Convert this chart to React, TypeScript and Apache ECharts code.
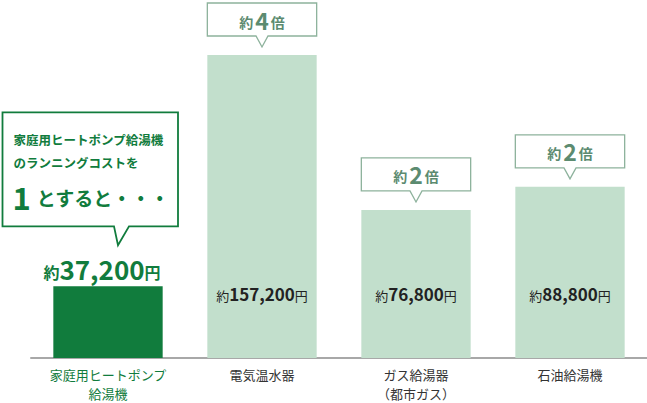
import React, { useEffect, useRef } from "react";
import * as echarts from "echarts";

const categories = ["家庭用ヒートポンプ\n給湯機", "電気温水器", "ガス給湯器\n（都市ガス）", "石油給湯機"];
const costs = [37200, 157200, 76800, 88800];
const costLabels = ["37,200", "157,200", "76,800", "88,800"];
const multipliers = ["", "4", "2", "2"];
const introLines = ["家庭用ヒートポンプ給湯機", "のランニングコストを"];

const GREEN = "#117c3d";
const LIGHT = "#c2dfcc";
const CALLOUT = "#8db29c";
const CALLOUT_TEXT = "#5c8b70";
const FONT = "'Noto Sans CJK JP', 'Noto Sans', sans-serif";

function App() {
  const chartRef = useRef<HTMLDivElement>(null);

  useEffect(() => {
    const myChart = echarts.init(chartRef.current!, null, { renderer: "svg" });

    const barData = costs.map((v, i) =>
      i === 0
        ? {
            value: v,
            itemStyle: { color: GREEN },
            label: {
              show: true,
              position: "top" as const,
              distance: 5,
              offset: [-6, 0],
              formatter: `{a|約}{b|${costLabels[i]}}{a|円}`,
              rich: {
                a: { fontSize: 16, fontWeight: "bold", color: GREEN, fontFamily: FONT, padding: [8, 0, 0, 0] },
                b: { fontSize: 26, fontWeight: "bold", color: GREEN, fontFamily: FONT },
              },
            },
          }
        : {
            value: v,
            itemStyle: { color: LIGHT },
            label: {
              show: true,
              position: "insideBottom" as const,
              distance: 56,
              formatter: `{a|約}{b|${costLabels[i]}}{a|円}`,
              rich: {
                a: { fontSize: 13, color: "#222", fontFamily: FONT, padding: [3, 0, 0, 0] },
                b: { fontSize: 17, fontWeight: "bold", color: "#222", fontFamily: FONT },
              },
            },
          }
    );

    const ratioData = costs
      .map((v, i) => [i, v, multipliers[i]])
      .filter((d) => d[2] !== "");

    const option: echarts.EChartsOption = {
      animation: false,
      grid: { left: 31, right: 0, top: 55, bottom: 43 },
      xAxis: {
        type: "category",
        data: categories,
        axisLine: { lineStyle: { color: "#a8a8a8", width: 2 } },
        axisTick: { show: false },
        axisLabel: {
          interval: 0,
          margin: 7,
          fontSize: 13,
          lineHeight: 19,
          fontFamily: FONT,
          color: ((_v: string, idx: number) => (idx === 0 ? GREEN : "#333")) as any,
        },
      },
      yAxis: { type: "value", show: false, min: 0, max: Math.max(...costs) },
      series: [
        {
          type: "bar",
          barWidth: "71%",
          data: barData,
        },
        {
          type: "custom",
          clip: false,
          z: 5,
          data: ratioData,
          renderItem: (params: any, api: any) => {
            const p = api.coord([api.value(0), api.value(1)]);
            const w = api.size([1, 0])[0] * 0.71;
            const cx = p[0];
            const top = p[1];
            const bottom = top - 19;
            const boxTop = bottom - 33;
            const l = cx - w / 2;
            const r = cx + w / 2;
            const m = ratioData[params.dataIndex][2];
            return {
              type: "group",
              children: [
                {
                  type: "polygon",
                  shape: {
                    points: [
                      [l, boxTop], [r, boxTop], [r, bottom], [cx + 6, bottom],
                      [cx, top - 8], [cx - 6, bottom], [l, bottom],
                    ],
                  },
                  style: { fill: "#fff", stroke: CALLOUT, lineWidth: 1.3 },
                },
                {
                  type: "text",
                  x: cx,
                  y: (boxTop + bottom) / 2,
                  style: {
                    text: `{a|約}{b|${m}}{a|倍}`,
                    align: "center",
                    verticalAlign: "middle",
                    rich: {
                      a: { fontSize: 14, fontWeight: "bold", fill: CALLOUT_TEXT, fontFamily: FONT, padding: [4, 0, 0, 0] },
                      b: { fontSize: 23, fontWeight: "bold", fill: CALLOUT_TEXT, fontFamily: FONT, padding: [0, 2, 0, 2] },
                    },
                  },
                },
              ],
            };
          },
        },
        {
          type: "custom",
          clip: false,
          z: 5,
          data: [[0, costs[0]]],
          renderItem: (_params: any, api: any) => {
            const p = api.coord([api.value(0), api.value(1)]);
            const cx = p[0];
            const top = p[1];
            const bottom = top - 60;
            const boxTop = bottom - 114;
            const l = cx - 105.5;
            const r = cx + 70;
            return {
              type: "group",
              children: [
                {
                  type: "polygon",
                  shape: {
                    points: [
                      [l, boxTop], [r, boxTop], [r, bottom], [cx + 21, bottom],
                      [cx + 10, top - 41], [cx + 6, bottom], [l, bottom],
                    ],
                  },
                  style: { fill: "#fff", stroke: GREEN, lineWidth: 1.8 },
                },
                {
                  type: "text",
                  x: l + 11,
                  y: boxTop + 27,
                  style: {
                    text: introLines[0],
                    fill: GREEN,
                    fontSize: 12.5,
                    fontWeight: "bold",
                    fontFamily: FONT,
                    verticalAlign: "middle",
                  },
                },
                {
                  type: "text",
                  x: l + 11,
                  y: boxTop + 50,
                  style: {
                    text: introLines[1],
                    fill: GREEN,
                    fontSize: 12.5,
                    fontWeight: "bold",
                    fontFamily: FONT,
                    verticalAlign: "middle",
                  },
                },
                {
                  type: "text",
                  x: l + 10,
                  y: boxTop + 84,
                  style: {
                    text: "{n|1}{t|とすると・・・}",
                    verticalAlign: "middle",
                    rich: {
                      n: { fontSize: 31, fontWeight: "bold", fill: GREEN, fontFamily: FONT, padding: [0, 6, 0, 0] },
                      t: { fontSize: 19, fontWeight: "bold", fill: GREEN, fontFamily: FONT, padding: [3, 0, 0, 0] },
                    },
                  },
                },
              ],
            };
          },
        },
      ],
    };

    myChart.setOption(option);

    return () => {
      myChart.dispose();
    };
  }, []);

  return (
    <div
      ref={chartRef}
      style={{ position: "fixed", left: 0, top: 0, width: 647, height: 403, background: "#fff" }}
    />
  );
}

export default App;
